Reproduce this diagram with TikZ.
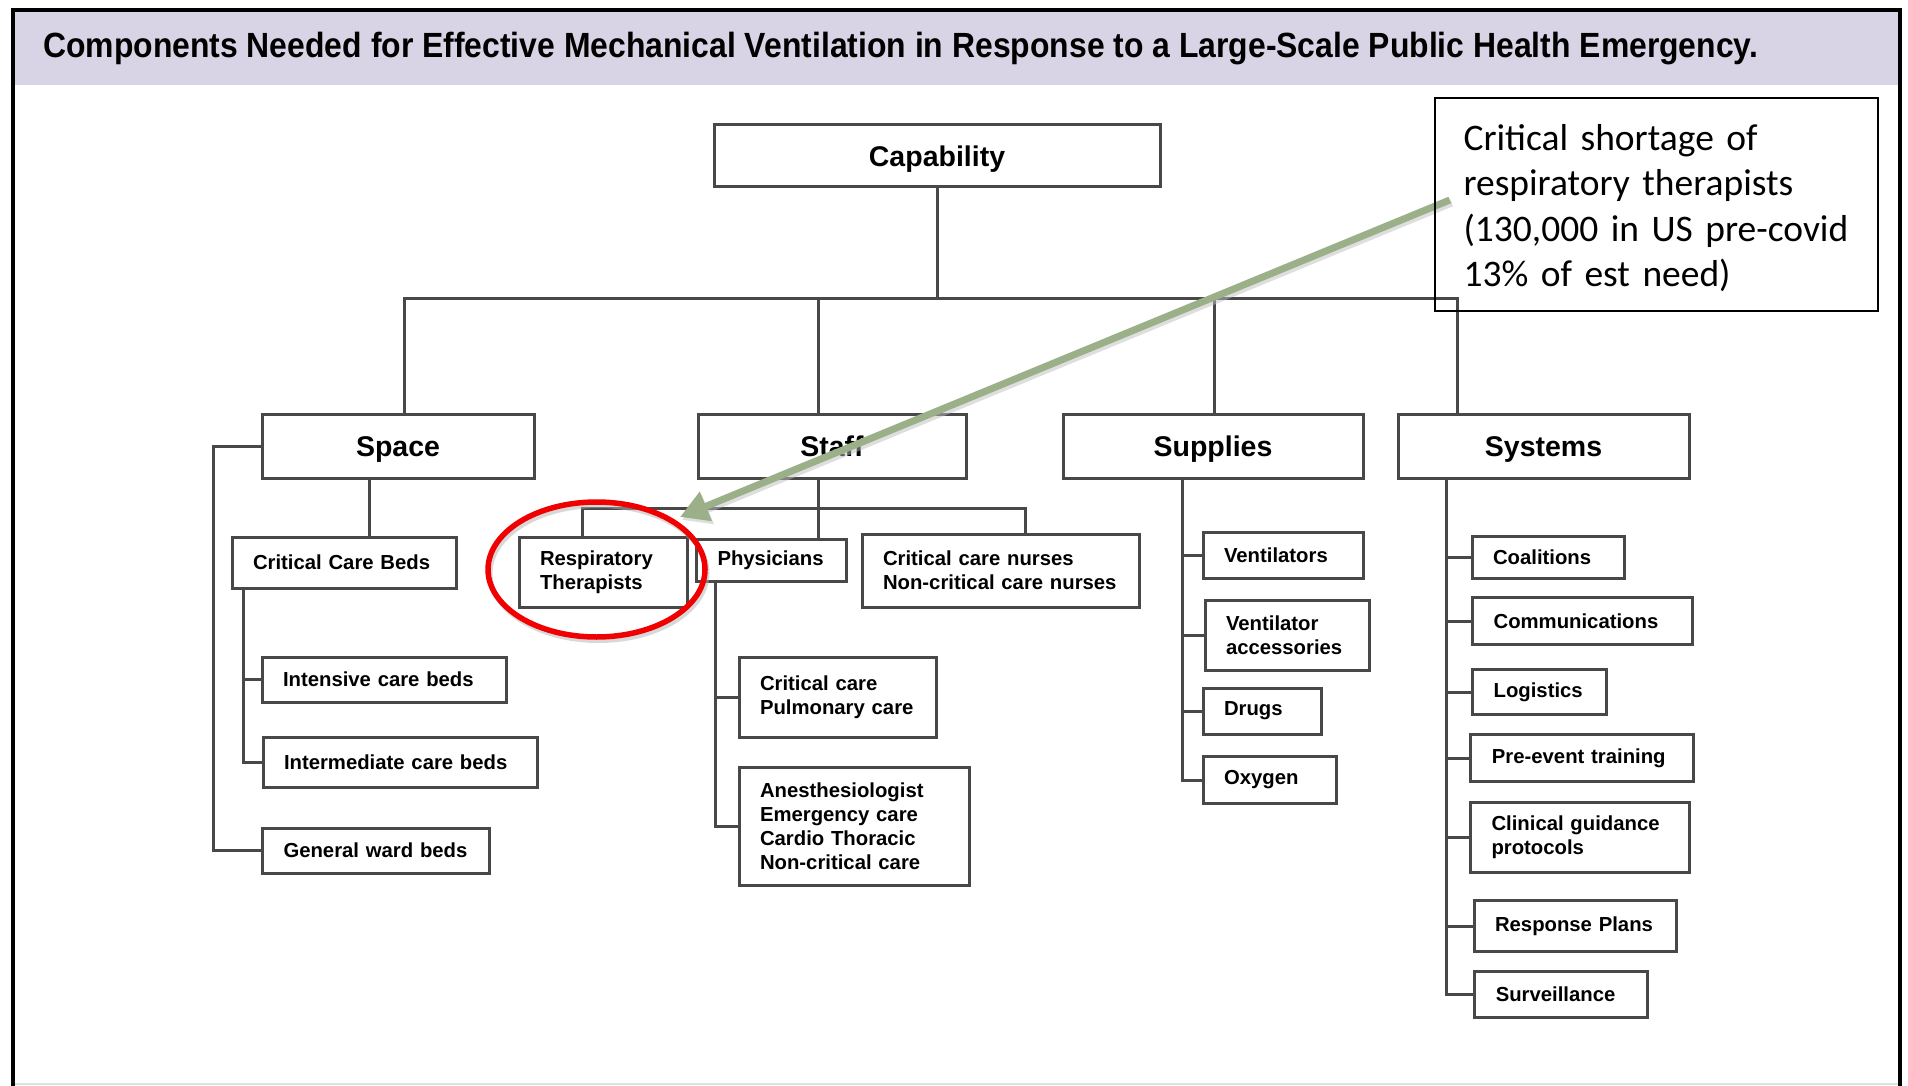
\documentclass[tikz,border=0pt]{standalone}
\usepackage{fontspec}
\setmainfont{Liberation Sans}
\newfontfamily\calib{Carlito}
\usetikzlibrary{arrows.meta,shapes.geometric}
\definecolor{band}{RGB}{216,212,229}
\definecolor{boxline}{RGB}{72,72,72}
\definecolor{sage}{RGB}{155,176,136}
\definecolor{ringred}{RGB}{240,0,0}
\tikzset{
  lvl/.style={draw=boxline, line width=3pt, fill=white, font=\fontsize{28.5}{34}\selectfont\bfseries, inner sep=0pt, text height=20.4pt, text depth=0pt},
  leaf/.style={draw=boxline, line width=3pt, fill=white, font=\fontsize{20.3}{24}\selectfont\bfseries, align=left, inner ysep=0pt, inner xsep=21pt},
  conn/.style={draw=boxline, line width=3pt},
}
\begin{document}
\begin{tikzpicture}[x=1pt,y=-1pt]
\useasboundingbox (0,0) rectangle (1908,1086);
\fill[white] (0,0) rectangle (1908,1086);
% title band and frame
\fill[band] (13,12) rectangle (1900,85);
\draw[black!12, line width=1.5pt] (13,1084) -- (1900,1084);
\draw[black, line width=4.5pt] (13,1086) -- (13,10) -- (1900,10) -- (1900,1086);
\node[anchor=base west, inner sep=0pt] (title) at (43,57.5) {\resizebox{1715pt}{\height}{\fontsize{35}{42}\selectfont\bfseries Components Needed for Effective Mechanical Ventilation in Response to a Large-Scale Public Health Emergency.}};

% level boxes
\node[lvl, minimum width=446pt, minimum height=62pt] (cap) at (937,156) {Capability};
\node[lvl, minimum width=272pt, minimum height=64pt] (space) at (398,446) {Space};
\node[lvl, minimum width=268pt, minimum height=64pt] (staff) at (832,446) {Staff};
\node[lvl, minimum width=300pt, minimum height=64pt] (sup) at (1213,446) {Supplies};
\node[lvl, minimum width=291pt, minimum height=64pt] (sys) at (1543.5,446) {Systems};

% space leaves
\node[leaf, text width=182pt, minimum height=51pt] (ccb) at (344,562.5) {Critical Care Beds};
\node[leaf, text width=202pt, minimum height=45pt] (icb) at (384,679.5) {Intensive care beds};
\node[leaf, text width=232pt, minimum height=50pt] (imcb) at (400,762) {Intermediate care beds};
\node[leaf, text width=185pt, minimum height=45pt] (gwb) at (376,850.5) {General ward beds};

% staff leaves
\node[leaf, text width=126pt, minimum height=70pt] (rt) at (603,572) {Respiratory\\Therapists};
\node[leaf, text width=108pt, minimum height=42pt] (phys) at (771.5,560) {Physicians};
\node[leaf, text width=235pt, minimum height=73pt] (nurse) at (1000.5,570.5) {Critical care nurses\\Non-critical care nurses};
\node[leaf, text width=155pt, minimum height=80pt] (ccpc) at (837.5,697) {Critical care\\Pulmonary care};
\node[leaf, text width=188pt, minimum height=118pt] (anes) at (854,826) {Anesthesiologist\\Emergency care\\Cardio Thoracic\\Non-critical care};

% supplies leaves
\node[leaf, text width=118pt, minimum height=46pt] (vent) at (1283,555) {Ventilators};
\node[leaf, text width=122pt, minimum height=70pt] (vacc) at (1287,635) {Ventilator\\accessories};
\node[leaf, text width=76pt, minimum height=46pt] (drugs) at (1262,711) {Drugs};
\node[leaf, text width=91pt, minimum height=47pt] (oxy) at (1269.5,780) {Oxygen};

% systems leaves
\node[leaf, text width=110pt, minimum height=42pt] (coal) at (1548,557) {Coalitions};
\node[leaf, text width=178pt, minimum height=46.5pt] (comm) at (1582.6,621) {Communications};
\node[leaf, text width=91.4pt, minimum height=44.7pt] (logi) at (1539.3,692) {Logistics};
\node[leaf, text width=181pt, minimum height=47.7pt] (pre) at (1582.4,758) {Pre-event training};
\node[leaf, text width=177pt, minimum height=70pt] (clin) at (1580,837.7) {Clinical guidance\\protocols};
\node[leaf, text width=160pt, minimum height=51pt] (resp) at (1575,926.4) {Response Plans};
\node[leaf, text width=130.5pt, minimum height=46pt] (surv) at (1561,994) {Surveillance};

% connectors: top level
\coordinate (busY) at (0,298);
\coordinate (dSpace) at (404,298);
\coordinate (dStaff) at (818,298);
\coordinate (dSup) at (1214,298);
\coordinate (dSys) at (1457,298);
\draw[conn] (cap.south) -- (cap.south |- busY);
\draw[conn] (space.north -| dSpace) |- (dSys) -- (sys.north -| dSys);
\draw[conn] (dStaff) -- (staff.north -| dStaff);
\draw[conn] (dSup) -- (sup.north -| dSup);

% space connectors
\coordinate (sx1) at (369,0);
\draw[conn] (sx1 |- space.south) -- (sx1 |- ccb.north);
\draw[conn] (space.west) -- ++(-47,0) |- (gwb.west);
\coordinate (cx1) at (243,0);
\draw[conn] (cx1 |- ccb.south) |- (imcb.west);
\draw[conn] (cx1 |- icb.west) -- (icb.west);

% staff connectors
\coordinate (sbus) at (0,508);
\coordinate (rtx) at (582,0);
\coordinate (nx) at (1025,0);
\coordinate (stx) at (818,0);
\draw[conn] (rt.north -| rtx) |- (sbus -| nx) -- (nurse.north -| nx);
\draw[conn] (staff.south -| stx) -- (phys.north -| stx);
\coordinate (px) at (715,0);
\draw[conn] (px |- phys.south) |- (anes.west);
\draw[conn] (px |- ccpc.west) -- (ccpc.west);

% supplies connectors
\coordinate (supx) at (1182.5,0);
\draw[conn] (supx |- sup.south) |- (oxy.west);
\draw[conn] (supx |- vent.west) -- (vent.west);
\draw[conn] (supx |- vacc.west) -- (vacc.west);
\draw[conn] (supx |- drugs.west) -- (drugs.west);

% systems connectors
\coordinate (sysx) at (1446.6,0);
\draw[conn] (sysx |- sys.south) |- (surv.west);
\draw[conn] (sysx |- coal.west) -- (coal.west);
\draw[conn] (sysx |- comm.west) -- (comm.west);
\draw[conn] (sysx |- logi.west) -- (logi.west);
\draw[conn] (sysx |- pre.west) -- (pre.west);
\draw[conn] (sysx |- clin.west) -- (clin.west);
\draw[conn] (sysx |- resp.west) -- (resp.west);

% red ring
\draw[black!30, line width=5pt, opacity=0.5] (598.5,573) ellipse [x radius=108.5pt, y radius=67.5pt];
\draw[ringred, line width=5.5pt] (596.5,569.5) ellipse [x radius=108.5pt, y radius=67.5pt];

% annotation
\node[text width=386.5pt, inner xsep=28pt, inner ysep=0pt, minimum height=213pt, align=left, font=\calib\fontsize{37.5}{45.5}\selectfont] (ann) at (1656.75,208) {Critical shortage of\\respiratory therapists\\(130,000 in US pre-covid\\13\% of est need)};
\coordinate (astart) at ([xshift=14.5pt, yshift=8pt]ann.west);
\coordinate (atip) at (680,517);
\coordinate (astartS) at ([xshift=2pt, yshift=-3pt]astart);
\coordinate (atipS) at ([xshift=2pt, yshift=-3pt]atip);
\draw[black!25, opacity=0.5, line width=7pt, -{Triangle[length=28pt,width=30pt]}] (astartS) -- (atipS);
\draw[sage, line width=7pt, -{Triangle[length=28pt,width=30pt]}] (astart) -- (atip);
\draw[black, line width=2pt] ([yshift=3.5pt]ann.north west) rectangle ([yshift=3.5pt]ann.south east);
\end{tikzpicture}
\end{document}
